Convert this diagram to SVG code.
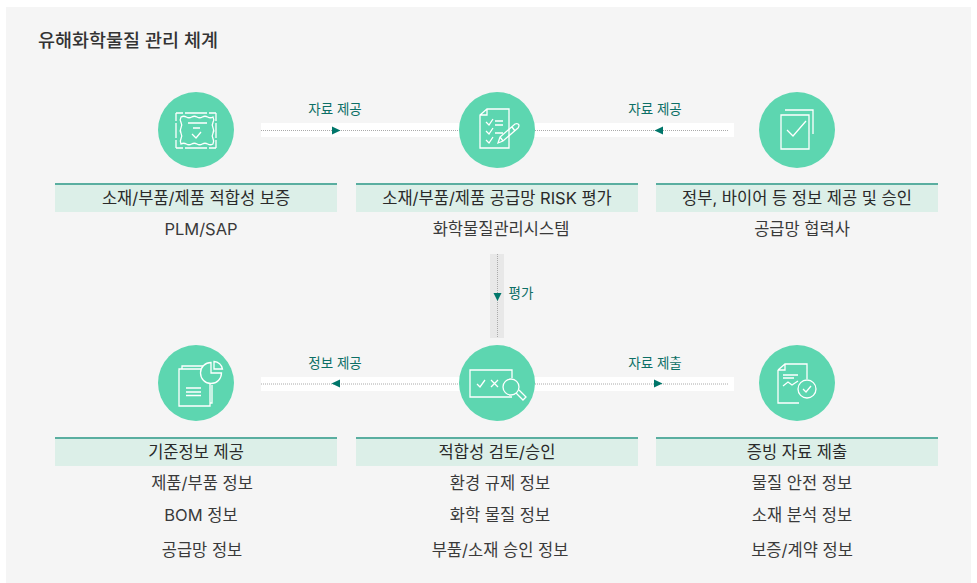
<svg xmlns="http://www.w3.org/2000/svg" width="977" height="583" viewBox="0 0 977 583">
<defs>
<style>
text{font-family:Inter,"Noto Sans CJK KR","Liberation Sans",sans-serif}
.t{font-size:16.500px;fill:#3a3a3a;text-anchor:middle}
.h{font-size:16.500px;fill:#2a2a2a;text-anchor:middle}
.l{font-size:13.500px;fill:#0d6f66;text-anchor:middle}
.c{fill:#5dd6b0}
.i{fill:none;stroke:#fff;stroke-width:1.300}
.band{fill:#fff}
.dot{stroke:#aaa;stroke-width:1;stroke-dasharray:1 1;fill:none}
.ar{fill:#00766a}
.hb{fill:#dcefe8}
.hl{stroke:#5aaea0;stroke-width:2}
</style>
</defs>
<rect width="977" height="583" fill="#fff"/>
<rect x="6" y="7" width="965" height="576" fill="#f5f5f5"/>
<text x="38" y="47" fill="#333" style="font-size:18.500px;font-weight:500">유해화학물질 관리 체계</text>
<g id="connectors">
<rect class="band" x="261" y="123" width="473" height="14"/>
<path class="dot" d="M261 130.500H728"/>
<path class="ar" d="M332 126.500L340.500 130.500L332 134.500Z"/>
<path class="ar" d="M663 126.500L654.500 130.500L663 134.500Z"/>
<text class="l" x="335" y="114">자료 제공</text>
<text class="l" x="655" y="114">자료 제공</text>
<rect x="490" y="254" width="14" height="84" fill="#e8e8e8"/>
<path class="dot" d="M497.500 254V338"/>
<path class="ar" d="M493.500 293L501.500 293L497.500 301Z"/>
<text class="l" x="521" y="298">평가</text>
<rect class="band" x="261" y="377" width="473" height="14"/>
<path class="dot" d="M261 384H728"/>
<path class="ar" d="M340 379.500L331.500 383.500L340 387.500Z"/>
<path class="ar" d="M654 379.500L662.500 383.500L654 387.500Z"/>
<text class="l" x="335" y="368">정보 제공</text>
<text class="l" x="655" y="368">자료 제출</text>
</g>
<g id="n1">
<circle class="c" cx="196" cy="130" r="38"/>
<path class="i" d="M176 113H183M185 113H207M209 113H216M176 148H183M185 148H207M209 148H216M176 113V121M176 123V138M176 140V148M216 113V121M216 123V138M216 140V148"/>
<path class="i" d="M181 117q2.670 -1.500 5.330 0t5.330 0t5.330 0t5.330 0t5.330 0t5.330 0q1.500 2.700 0 5.400t0 5.400t0 5.400t0 5.400t0 5.400q-2.670 1.500 -5.330 0t-5.330 0t-5.330 0t-5.330 0t-5.330 0t-5.330 0q-1.500 -2.700 0 -5.400t0 -5.400t0 -5.400t0 -5.400t0 -5.400Z"/>
<path class="i" d="M188 123H207M193 128H200M192 134L196 138L201 132"/>
<rect class="hb" x="55" y="183" width="282" height="29"/><path class="hl" d="M55 184H337"/>
<text class="h" x="196" y="203.500">소재/부품/제품 적합성 보증</text>
<text class="t" x="201" y="235">PLM/SAP</text>
</g>
<g id="n2">
<circle class="c" cx="497" cy="130" r="38"/>
<path class="i" d="M480 115L487 109H509V148H480ZM480 115H487V109M486 122L489 125L493 119M486 131L489 134L493 128M486 140L489 143L493 137M495 121H503M495 125H503M495 133H503"/>
<path class="i" d="M498 143L500 137L515 124Q518 123 519 125Q519 127 518 128L503 141ZM500 137L503 141M512 127L515 131"/>
<rect class="hb" x="356" y="183" width="282" height="29"/><path class="hl" d="M356 184H638"/>
<text class="h" x="497" y="203.500">소재/부품/제품 공급망 RISK 평가</text>
<text class="t" x="501" y="235">화학물질관리시스템</text>
</g>
<g id="n3">
<circle class="c" cx="797" cy="130" r="38"/>
<path class="i" d="M785 110H813V134M781 115H809V149H781ZM787 130L793 136L806 121"/>
<rect class="hb" x="656" y="183" width="282" height="29"/><path class="hl" d="M656 184H938"/>
<text class="h" x="797" y="203.500">정부, 바이어 등 정보 제공 및 승인</text>
<text class="t" x="802" y="235">공급망 협력사</text>
</g>
<g id="n4">
<circle class="c" cx="196" cy="383" r="38"/>
<path class="i" d="M179 369H210V406H179ZM182 369V366H204M210 403H212V385M186 388H201M186 392H201M186 395.500H201"/>
<path d="M211 362.500A10.500 10.500 0 1 0 221.500 373H211Z" fill="#5dd6b0" stroke="#fff" stroke-width="1.300"/>
<path class="i" d="M214 361.500V369H222.500A9 9 0 0 0 214 361.500Z"/>
<rect class="hb" x="55" y="437" width="282" height="29"/><path class="hl" d="M55 438H337"/>
<text class="h" x="196" y="457.500">기준정보 제공</text>
<text class="t" x="202" y="489">제품/부품 정보</text>
<text class="t" x="201" y="521">BOM 정보</text>
<text class="t" x="202" y="556">공급망 정보</text>
</g>
<g id="n5">
<circle class="c" cx="497" cy="383" r="38"/>
<path class="i" d="M512 378V370H470V397H512"/>
<path class="i" d="M477 384L480 387L485 380M491 380L498 387M498 380L491 387"/>
<circle cx="511" cy="387" r="8" fill="#5dd6b0" stroke="#fff" stroke-width="1.300"/>
<path class="i" d="M516 393L523 400L526 397L519 390"/>
<rect class="hb" x="356" y="437" width="282" height="29"/><path class="hl" d="M356 438H638"/>
<text class="h" x="497" y="457.500">적합성 검토/승인</text>
<text class="t" x="500" y="489">환경 규제 정보</text>
<text class="t" x="500" y="521">화학 물질 정보</text>
<text class="t" x="500" y="556">부품/소재 승인 정보</text>
</g>
<g id="n6">
<circle class="c" cx="797" cy="383" r="38"/>
<path class="i" d="M778 370L785 364H807V379M778 370V403H799M778 370H785V364"/>
<path class="i" d="M783 375H798M783 378H794M783 386L788 382L792 385L798 381"/>
<circle class="i" cx="807" cy="389" r="9"/>
<path class="i" d="M803 389L806 392L811 386"/>
<rect class="hb" x="656" y="437" width="282" height="29"/><path class="hl" d="M656 438H938"/>
<text class="h" x="797" y="457.500">증빙 자료 제출</text>
<text class="t" x="802" y="489">물질 안전 정보</text>
<text class="t" x="802" y="521">소재 분석 정보</text>
<text class="t" x="802" y="556">보증/계약 정보</text>
</g>
</svg>
